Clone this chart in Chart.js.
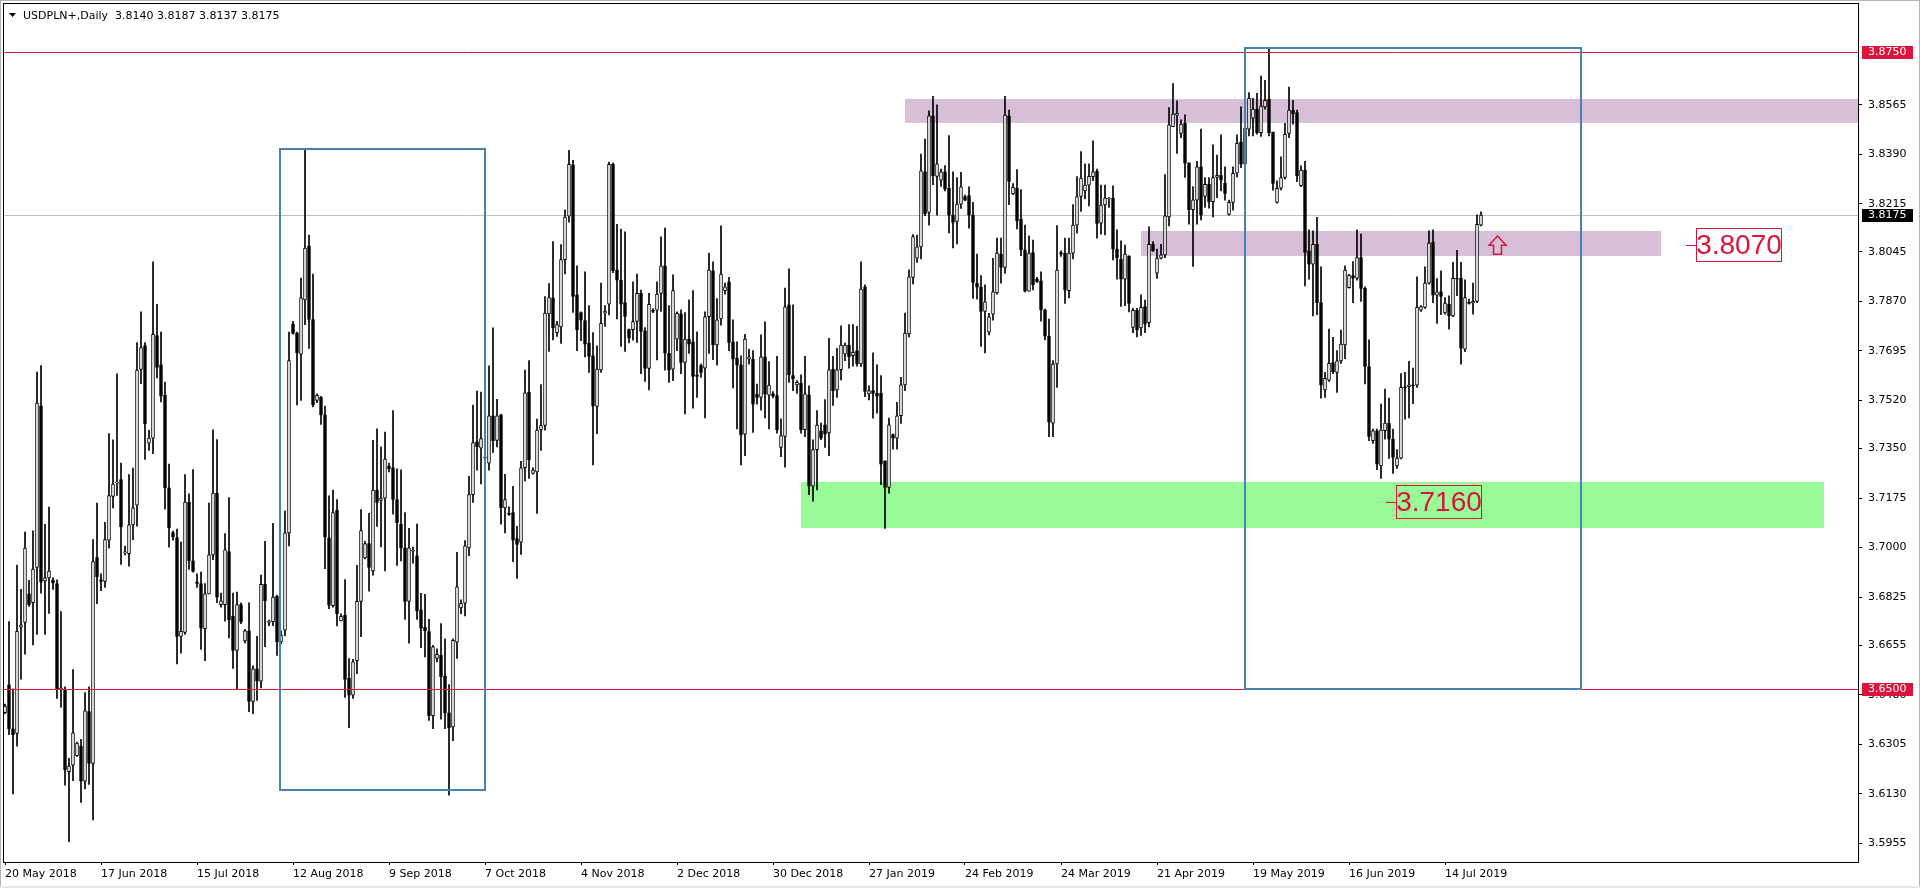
<!DOCTYPE html>
<html>
<head>
<meta charset="utf-8">
<script src="https://cdn.jsdelivr.net/npm/chart.js@4/dist/chart.umd.min.js"></script>
<style>
  html, body { margin: 0; padding: 0; background: #fff; }
  canvas { display: block; }
</style>
</head>
<body>
<canvas id="chart" width="1920" height="888"></canvas>
<script>
// USDPLN+ daily candles, one per trading day (6 per week)
const opens = [
  3.6416,3.6515,3.6359,3.6343,3.6719,3.6735,3.6836,3.6805,3.6930,3.7501,
  3.6882,3.6893,3.6884,3.6873,3.6497,3.6497,3.6208,3.6231,3.6264,3.6298,
  3.6174,3.6420,3.6237,3.6965,3.6886,3.6880,3.7026,3.7181,3.7228,3.7240,
  3.6981,3.6978,3.7080,3.7150,3.7630,3.7714,3.7369,3.7387,3.7749,3.7646,
  3.7539,3.7211,3.7053,3.7035,3.6686,3.6700,3.7161,3.6953,3.6878,3.6873,
  3.6713,3.6836,3.6974,3.7193,3.6798,3.6798,3.6986,3.6758,3.6636,3.6798,
  3.6670,3.6706,3.6456,3.6571,3.6528,3.6870,3.6735,3.6738,3.6828,3.6667,
  3.6708,3.7052,3.7791,3.7757,3.7684,3.7875,3.8067,3.7806,3.7520,3.7532,
  3.7469,3.7034,3.6795,3.7132,3.6741,3.6761,3.6539,3.6478,3.6600,3.6810,
  3.6963,3.7014,3.6917,3.7203,3.7167,3.7175,3.7287,3.7282,3.7170,3.7083,
  3.6999,3.6810,3.6987,3.6971,3.6780,3.6718,3.6703,3.6406,3.6608,3.6619,
  3.6547,3.6416,3.6366,3.6666,3.6787,3.6803,3.6999,3.7187,3.7374,3.7351,
  3.7316,3.7298,3.7466,3.7379,3.7469,3.7140,3.7121,3.7124,3.7032,3.7019,
  3.7282,3.7550,3.7262,3.7267,3.7417,3.7432,3.7826,3.7883,3.7760,3.7780,
  3.8018,3.8171,3.8353,3.7893,3.7831,3.7802,3.7723,3.7678,3.7499,3.7628,
  3.7829,3.7860,3.8355,3.7981,3.7945,3.7866,3.7772,3.7770,3.7799,3.7899,
  3.7766,3.7633,3.7839,3.7839,3.7898,3.7996,3.7687,3.7631,3.7737,3.7826,
  3.7654,3.7737,3.7727,3.7611,3.7643,3.7634,3.7816,3.7978,3.7716,3.7808,
  3.7908,3.7939,3.7727,3.7670,3.7646,3.7401,3.7666,3.7666,3.7542,3.7531,
  3.7674,3.7539,3.7543,3.7537,3.7354,3.7393,3.7858,3.7608,3.7575,3.7581,
  3.7417,3.7540,3.7217,3.7346,3.7413,3.7434,3.7405,3.7631,3.7557,3.7629,
  3.7684,3.7716,3.7678,3.7696,3.7649,3.7922,3.7543,3.7555,3.7546,3.7546,
  3.7307,3.7213,3.7399,3.7387,3.7466,3.7575,3.7755,3.7955,3.8023,3.8063,
  3.8328,3.8185,3.8526,3.8312,3.8299,3.8328,3.8271,3.8175,3.8153,3.8214,
  3.8241,3.8244,3.8175,3.7934,3.7920,3.7835,3.7761,3.7825,3.7900,3.8037,
  3.7990,3.8526,3.8250,3.8271,3.8161,3.8052,3.7906,3.8043,3.7949,3.7943,
  3.7840,3.7747,3.7440,3.7649,3.8043,3.8041,3.7908,3.8041,3.8140,3.8241,
  3.8261,3.8281,3.8311,3.8330,3.8147,3.8211,3.8232,3.8235,3.8055,3.8020,
  3.7949,3.8031,3.7778,3.7839,3.7776,3.7852,3.7795,3.8072,3.7970,3.8023,
  3.8034,3.8169,3.8488,3.8528,3.8464,3.8500,3.8359,3.8194,3.8228,3.8346,
  3.8241,3.8284,3.8223,3.8308,3.8316,3.8288,3.8178,3.8220,3.8323,3.8434,
  3.8355,3.8479,3.8518,3.8550,3.8467,3.8558,3.8585,3.8469,3.8220,3.8270,
  3.8308,3.8464,3.8546,3.8538,3.8279,3.8334,3.8049,3.8002,3.8072,3.7866,
  3.7557,3.7592,3.7654,3.7619,3.7660,3.7716,3.7919,3.7961,3.7952,3.8025,
  3.7916,3.7640,3.7378,3.7413,3.7289,3.7413,3.7440,3.7383,3.7289,3.7316,
  3.7568,3.7569,3.7574,3.7574,3.7839,3.7849,3.7935,3.8081,3.7892,3.7904,
  3.7829,3.7860,3.7819,3.7952,3.7952,3.7701,3.7866,3.7864,3.7870,3.8140
];
const highs = [
  3.6447,3.6738,3.6501,3.6938,3.6852,3.7055,3.6884,3.7059,3.7620,3.7643,
  3.7082,3.7143,3.6893,3.6886,3.6774,3.6508,3.6255,3.6569,3.6312,3.6322,
  3.6487,3.6508,3.7028,3.7157,3.6907,3.7089,3.7403,3.7381,3.7614,3.7299,
  3.7005,3.7258,3.7281,3.7725,3.7833,3.7725,3.7414,3.8010,3.7860,3.7762,
  3.7585,3.7295,3.7058,3.7065,3.7019,3.7258,3.7190,3.7276,3.6907,3.6913,
  3.6873,3.7157,3.7416,3.7382,3.6839,3.7049,3.7177,3.6839,3.6843,3.6805,
  3.6711,3.6805,3.6582,3.6686,3.6903,3.7022,3.6744,3.7086,3.6832,3.6706,
  3.7129,3.7762,3.7800,3.7762,3.7953,3.8408,3.8105,3.7967,3.7543,3.7535,
  3.7500,3.7183,3.7203,3.7170,3.6766,3.6887,3.6608,3.6605,3.6937,3.7134,
  3.7022,3.7121,3.7379,3.7420,3.7356,3.7408,3.7298,3.7484,3.7278,3.7275,
  3.7124,3.7068,3.7002,3.7083,3.6838,3.6835,3.6746,3.6654,3.6642,3.6731,
  3.6677,3.6516,3.6677,3.6983,3.6815,3.7025,3.7252,3.7504,3.7553,3.7550,
  3.7330,3.7642,3.7777,3.7524,3.7471,3.7259,3.7144,3.7216,3.7075,3.7305,
  3.7627,3.7661,3.7282,3.7454,3.7576,3.7887,3.7933,3.8082,3.7800,3.8071,
  3.8194,3.8404,3.8369,3.7996,3.7833,3.7975,3.7855,3.7760,3.7713,3.7935,
  3.7855,3.8363,3.8359,3.8143,3.8126,3.8116,3.7772,3.7939,3.7967,3.7910,
  3.7778,3.7899,3.7845,3.7939,3.8098,3.8129,3.7855,3.7964,3.7833,3.7840,
  3.7831,3.7876,3.7908,3.7763,3.7649,3.7833,3.8041,3.8010,3.7880,3.8137,
  3.7935,3.7955,3.7805,3.7727,3.7678,3.7754,3.7702,3.7696,3.7578,3.7752,
  3.7798,3.7657,3.7551,3.7676,3.7455,3.7917,3.7985,3.7858,3.7590,3.7611,
  3.7676,3.7572,3.7381,3.7484,3.7440,3.7523,3.7740,3.7676,3.7704,3.7784,
  3.7723,3.7788,3.7788,3.7782,3.8010,3.7929,3.7572,3.7688,3.7646,3.7608,
  3.7307,3.7458,3.7402,3.7513,3.7602,3.7829,3.7982,3.8106,3.8105,3.8391,
  3.8444,3.8544,3.8595,3.8565,3.8338,3.8350,3.8456,3.8328,3.8308,3.8326,
  3.8246,3.8275,3.8220,3.8037,3.7961,3.7929,3.7828,3.8022,3.8094,3.8094,
  3.8595,3.8546,3.8287,3.8336,3.8265,3.8140,3.8102,3.8087,3.7955,3.7975,
  3.7843,3.7808,3.7661,3.8138,3.8049,3.8094,3.8094,3.8212,3.8311,3.8400,
  3.8356,3.8356,3.8438,3.8338,3.8281,3.8281,3.8237,3.8279,3.8123,3.8084,
  3.8069,3.8031,3.7846,3.7846,3.7893,3.7875,3.8134,3.8082,3.8055,3.8072,
  3.8318,3.8555,3.8640,3.8579,3.8512,3.8530,3.8361,3.8276,3.8365,3.8479,
  3.8308,3.8308,3.8424,3.8387,3.8459,3.8346,3.8228,3.8346,3.8459,3.8558,
  3.8520,3.8608,3.8588,3.8606,3.8667,3.8652,3.8764,3.8469,3.8296,3.8381,
  3.8500,3.8628,3.8581,3.8546,3.8349,3.8365,3.8123,3.8120,3.8167,3.7992,
  3.7619,3.7772,3.7743,3.7696,3.7769,3.7996,3.7966,3.8011,3.8123,3.8108,
  3.7922,3.7734,3.7419,3.7419,3.7507,3.7560,3.7528,3.7419,3.7346,3.7615,
  3.7619,3.7658,3.7634,3.7957,3.7855,3.7992,3.8120,3.8123,3.7951,3.7978,
  3.7884,3.7890,3.8008,3.8051,3.8008,3.7946,3.7878,3.7935,3.8176,3.8187
];
const lows = [
  3.6413,3.6339,3.6129,3.6298,3.6535,3.6623,3.6792,3.6656,3.6693,3.6839,
  3.6693,3.6767,3.6852,3.6467,3.6436,3.6160,3.5960,3.6176,3.6262,3.6099,
  3.6147,3.6163,3.6037,3.6802,3.6848,3.6859,3.6998,3.7140,3.7184,3.6940,
  3.6974,3.6934,3.7028,3.7076,3.7579,3.7312,3.7343,3.7332,3.7600,3.7515,
  3.7136,3.7001,3.7026,3.6589,3.6627,3.6693,3.6923,3.6913,3.6859,3.6640,
  3.6600,3.6836,3.6957,3.6805,3.6789,3.6740,3.6681,3.6573,3.6501,3.6731,
  3.6663,3.6420,3.6413,3.6460,3.6504,3.6650,3.6724,3.6724,3.6619,3.6660,
  3.6688,3.7006,3.7754,3.7504,3.7520,3.7788,3.7704,3.7497,3.7512,3.7435,
  3.6925,3.6784,3.6789,3.6723,3.6741,3.6470,3.6363,3.6467,3.6554,3.6685,
  3.6960,3.6846,3.6902,3.7075,3.7002,3.6917,3.7267,3.7118,3.6937,3.6953,
  3.6746,3.6662,3.6945,3.6746,3.6646,3.6613,3.6389,3.6360,3.6596,3.6393,
  3.6360,3.6125,3.6317,3.6608,3.6766,3.6758,3.6971,3.7160,3.7274,3.7225,
  3.7300,3.7274,3.7336,3.7356,3.7083,3.7052,3.7114,3.6950,3.6891,3.6976,
  3.7236,3.7244,3.7259,3.7121,3.7343,3.7415,3.7693,3.7734,3.7746,3.7722,
  3.7967,3.8150,3.7831,3.7696,3.7731,3.7674,3.7619,3.7292,3.7403,3.7619,
  3.7782,3.7822,3.7972,3.7808,3.7711,3.7693,3.7723,3.7733,3.7725,3.7615,
  3.7587,3.7557,3.7830,3.7663,3.7835,3.7627,3.7584,3.7590,3.7696,3.7615,
  3.7472,3.7686,3.7493,3.7531,3.7601,3.7458,3.7686,3.7664,3.7645,3.7786,
  3.7896,3.7696,3.7564,3.7419,3.7292,3.7325,3.7648,3.7407,3.7507,3.7486,
  3.7458,3.7419,3.7529,3.7404,3.7321,3.7284,3.7584,3.7555,3.7545,3.7404,
  3.7392,3.7187,3.7164,3.7204,3.7381,3.7354,3.7325,3.7502,3.7531,3.7593,
  3.7661,3.7634,3.7641,3.7641,3.7640,3.7533,3.7522,3.7457,3.7475,3.7222,
  3.7068,3.7192,3.7348,3.7348,3.7439,3.7555,3.7745,3.7932,3.8008,3.8020,
  3.8173,3.8140,3.8283,3.8175,3.8277,3.8261,3.8112,3.8059,3.8073,3.8199,
  3.8226,3.8129,3.7881,3.7878,3.7711,3.7688,3.7752,3.7804,3.7896,3.7935,
  3.7969,3.8212,3.8247,3.8126,3.8032,3.7904,3.7906,3.7911,3.7937,3.7800,
  3.7734,3.7392,3.7392,3.7566,3.8029,3.7863,3.7882,3.8020,3.8111,3.8188,
  3.8232,3.8208,3.8297,3.8094,3.8108,3.8105,3.8202,3.8017,3.7949,3.7852,
  3.7855,3.7833,3.7760,3.7745,3.7750,3.7760,3.7780,3.8047,3.7951,3.8020,
  3.8025,3.8137,3.8488,3.8393,3.8449,3.8308,3.8143,3.7994,3.8143,3.8158,
  3.8202,3.8200,3.8169,3.8237,3.8261,3.8228,3.8175,3.8193,3.8310,3.8343,
  3.8340,3.8455,3.8455,3.8461,3.8453,3.8550,3.8455,3.8263,3.8217,3.8264,
  3.8302,3.8449,3.8497,3.8293,3.8276,3.7925,3.7949,3.7819,3.7823,3.7528,
  3.7531,3.7587,3.7615,3.7548,3.7651,3.7668,3.7917,3.7866,3.7945,3.7870,
  3.7578,3.7378,3.7368,3.7275,3.7244,3.7383,3.7315,3.7262,3.7280,3.7313,
  3.7454,3.7458,3.7509,3.7566,3.7835,3.7845,3.7931,3.7866,3.7792,3.7823,
  3.7825,3.7772,3.7816,3.7890,3.7648,3.7692,3.7860,3.7825,3.7866,3.8137
];
const closes = [
  3.6440,3.6359,3.6339,3.6704,3.6727,3.6998,3.6798,3.6924,3.7511,3.6878,
  3.6893,3.6917,3.6875,3.6501,3.6504,3.6214,3.6228,3.6345,3.6309,3.6174,
  3.6423,3.6237,3.6950,3.6897,3.6880,3.7028,3.7184,3.7224,3.7230,3.7073,
  3.6981,3.7080,3.7140,3.7627,3.7707,3.7438,3.7387,3.7754,3.7637,3.7535,
  3.7211,3.7069,3.7038,3.6686,3.6704,3.7161,3.6954,3.6916,3.6873,3.6715,
  3.6836,3.6974,3.7193,3.6825,3.6812,3.6992,3.6744,3.6636,3.6798,3.6738,
  3.6706,3.6456,3.6571,3.6528,3.6870,3.6812,3.6740,3.6825,3.6667,3.6690,
  3.7052,3.7661,3.7757,3.7688,3.7883,3.8059,3.7806,3.7504,3.7538,3.7469,
  3.7037,3.6796,3.7124,3.6766,3.6757,3.6534,3.6478,3.6596,3.6810,3.7060,
  3.7014,3.6930,3.7203,3.7160,3.7175,3.7313,3.7278,3.7170,3.7088,3.6999,
  3.6810,3.6999,3.6987,3.6777,3.6715,3.6705,3.6406,3.6649,3.6623,3.6544,
  3.6416,3.6363,3.6672,3.6861,3.6803,3.7006,3.7187,3.7371,3.7356,3.7385,
  3.7316,3.7466,3.7377,3.7466,3.7140,3.7170,3.7117,3.7026,3.7011,3.7282,
  3.7547,3.7310,3.7274,3.7415,3.7431,3.7829,3.7884,3.7776,3.7788,3.8018,
  3.8168,3.8355,3.7888,3.7769,3.7804,3.7719,3.7676,3.7501,3.7631,3.7793,
  3.7836,3.8355,3.7978,3.7945,3.7860,3.7817,3.7740,3.7799,3.7899,3.7764,
  3.7633,3.7860,3.7835,3.7896,3.7996,3.7687,3.7627,3.7908,3.7828,3.7654,
  3.7737,3.7719,3.7605,3.7605,3.7619,3.7816,3.7981,3.7716,3.7805,3.7967,
  3.7922,3.7725,3.7666,3.7645,3.7398,3.7737,3.7674,3.7507,3.7531,3.7674,
  3.7542,3.7574,3.7535,3.7417,3.7396,3.7851,3.7610,3.7596,3.7584,3.7417,
  3.7543,3.7217,3.7346,3.7433,3.7387,3.7401,3.7628,3.7555,3.7628,3.7716,
  3.7716,3.7675,3.7690,3.7649,3.7914,3.7552,3.7555,3.7545,3.7535,3.7295,
  3.7213,3.7434,3.7387,3.7466,3.7575,3.7758,3.7957,3.8099,3.8063,3.8332,
  3.8179,3.8526,3.8314,3.8356,3.8328,3.8267,3.8175,3.8149,3.8214,3.8275,
  3.8228,3.8175,3.7937,3.7920,3.7835,3.7869,3.7816,3.7904,3.8041,3.7990,
  3.8529,3.8294,3.8273,3.8155,3.8052,3.7906,3.8041,3.7929,3.7940,3.7840,
  3.7747,3.7443,3.7649,3.7981,3.8037,3.7910,3.8041,3.8140,3.8241,3.8306,
  3.8281,3.8312,3.8328,3.8146,3.8211,3.8235,3.8235,3.8055,3.8023,3.7949,
  3.8037,3.7863,3.7839,3.7770,3.7849,3.7790,3.8072,3.8049,3.8023,3.8035,
  3.8173,3.8494,3.8532,3.8535,3.8497,3.8359,3.8194,3.8229,3.8346,3.8175,
  3.8284,3.8223,3.8308,3.8316,3.8299,3.8252,3.8220,3.8323,3.8429,3.8355,
  3.8482,3.8588,3.8550,3.8467,3.8561,3.8581,3.8467,3.8287,3.8270,3.8308,
  3.8461,3.8546,3.8534,3.8314,3.8334,3.8043,3.8002,3.8072,3.7866,3.7574,
  3.7598,3.7651,3.7621,3.7660,3.7719,3.7981,3.7963,3.7952,3.8025,3.7916,
  3.7640,3.7393,3.7413,3.7295,3.7415,3.7440,3.7383,3.7319,3.7316,3.7566,
  3.7564,3.7575,3.7572,3.7849,3.7852,3.7935,3.8076,3.7892,3.7904,3.7888,
  3.7864,3.7819,3.7952,3.7949,3.7705,3.7884,3.7863,3.7870,3.8143,3.8175
];

// axis labels: dates every 4 weeks (24 bars), MT4 price grid values
const dateLabels = ['20 May 2018','17 Jun 2018','15 Jul 2018','12 Aug 2018','9 Sep 2018','7 Oct 2018',
  '4 Nov 2018','2 Dec 2018','30 Dec 2018','27 Jan 2019','24 Feb 2019','24 Mar 2019',
  '21 Apr 2019','19 May 2019','16 Jun 2019','14 Jul 2019'];
const dateTicks = [0,24,48,72,96,120,144,168,192,216,240,264,288,312,336,360];
const priceTicks = [3.8565,3.8390,3.8215,3.8045,3.7870,3.7695,3.7520,3.7350,
  3.7175,3.7000,3.6825,3.6655,3.6480,3.6305,3.6130,3.5955];

// drawn objects (bar index / price)
const levels = [3.8750, 3.6500];
const zones = [
  { from: 225, to: 463.25, top: 3.8587, bottom: 3.8502, color: '#D8BFD8' },
  { from: 284, to: 414, top: 3.8120, bottom: 3.8031, color: '#D8BFD8' },
  { from: 199, to: 454.75, top: 3.7233, bottom: 3.7068, color: '#98FB98' }
];
const boxes = [
  { from: 68.75, to: 120, top: 3.8409, bottom: 3.6144 },
  { from: 310, to: 394, top: 3.8767, bottom: 3.6500 }
];
const priceNotes = [
  { text: '3.8070', at: 420.25, price: 3.8070 },
  { text: '3.7160', at: 345.25, price: 3.7160 }
];
const upArrow = { at: 373, tip: 3.8101, base: 3.8037 };

const last = opens.length - 1;
const bid = closes[last];

const wicks = opens.map((o, i) => ({ x: i, y: [Math.min(lows[i], o, closes[i]), Math.max(highs[i], o, closes[i])] }));
const bodies = opens.map((o, i) => ({ x: i, y: [Math.min(o, closes[i]), Math.max(o, closes[i])] }));
const bodyFill = opens.map((o, i) => closes[i] >= o ? '#ffffff' : '#000000');

const RED = '#DC143C';
const AXIS_FONT = '11px "DejaVu Sans"';

const overlay = {
  id: 'overlay',
  beforeDatasetsDraw(chart) {
    const { ctx, chartArea: a, scales: { x, y } } = chart;
    ctx.save();
    ctx.beginPath();
    ctx.rect(a.left, a.top, a.right - a.left, a.bottom - a.top);
    ctx.clip();
    zones.forEach(z => {
      const x1 = Math.round(x.getPixelForValue(z.from)), x2 = Math.round(x.getPixelForValue(z.to));
      const y1 = Math.round(y.getPixelForValue(z.top)), y2 = Math.round(y.getPixelForValue(z.bottom));
      ctx.fillStyle = z.color;
      ctx.fillRect(x1, y1, x2 - x1, y2 - y1);
    });
    // bid line
    const by = Math.round(y.getPixelForValue(bid)) + 0.5;
    ctx.strokeStyle = '#C0C0C0';
    ctx.lineWidth = 1;
    ctx.beginPath(); ctx.moveTo(a.left, by); ctx.lineTo(a.right, by); ctx.stroke();
    ctx.restore();
  },
  afterDatasetsDraw(chart) {
    const { ctx, chartArea: a, scales: { x, y } } = chart;
    ctx.save();
    ctx.beginPath();
    ctx.rect(a.left, a.top, a.right - a.left, a.bottom - a.top);
    ctx.clip();
    // horizontal levels
    ctx.strokeStyle = RED;
    ctx.lineWidth = 1;
    levels.forEach(v => {
      const ly = Math.round(y.getPixelForValue(v)) + 0.5;
      ctx.beginPath(); ctx.moveTo(a.left, ly); ctx.lineTo(a.right, ly); ctx.stroke();
    });
    // rectangles
    ctx.strokeStyle = '#4682B4';
    ctx.lineWidth = 2;
    boxes.forEach(b => {
      const x1 = Math.round(x.getPixelForValue(b.from)), x2 = Math.round(x.getPixelForValue(b.to));
      const y1 = Math.round(y.getPixelForValue(b.top)), y2 = Math.round(y.getPixelForValue(b.bottom));
      ctx.strokeRect(x1, y1, x2 - x1, y2 - y1);
    });
    // price notes
    ctx.lineWidth = 1;
    ctx.strokeStyle = RED;
    ctx.fillStyle = RED;
    ctx.font = '28px "Liberation Sans"';
    ctx.textAlign = 'center';
    ctx.textBaseline = 'middle';
    priceNotes.forEach(n => {
      const px = Math.round(x.getPixelForValue(n.at));
      const py = Math.round(y.getPixelForValue(n.price));
      ctx.beginPath(); ctx.moveTo(px, py + 0.5); ctx.lineTo(px + 10, py + 0.5); ctx.stroke();
      ctx.strokeRect(px + 10.5, py - 16.5, 85, 33);
      ctx.fillText(n.text, px + 53, py + 1);
    });
    // up arrow
    const ax = Math.round(x.getPixelForValue(upArrow.at)) + 0.5;
    const ty = y.getPixelForValue(upArrow.tip), ry = y.getPixelForValue(upArrow.base);
    const mid = ty + (ry - ty) * 0.5;
    ctx.lineWidth = 1.5;
    ctx.beginPath();
    ctx.moveTo(ax, ty);
    ctx.lineTo(ax + 8.5, mid);
    ctx.lineTo(ax + 4, mid);
    ctx.lineTo(ax + 4, ry);
    ctx.lineTo(ax - 4, ry);
    ctx.lineTo(ax - 4, mid);
    ctx.lineTo(ax - 8.5, mid);
    ctx.closePath();
    ctx.stroke();
    ctx.restore();
  },
  afterDraw(chart) {
    const { ctx, chartArea: a, scales: { y } } = chart;
    ctx.save();
    // window edge and plot frame
    ctx.strokeStyle = '#B4B4B4';
    ctx.lineWidth = 1;
    ctx.strokeRect(0.5, 0.5, 1919, 887);
    ctx.fillStyle = '#E6E6E6';
    ctx.fillRect(0, 886, 1920, 2);
    ctx.strokeStyle = '#000';
    ctx.strokeRect(a.left - 0.5, a.top - 0.5, a.right - a.left + 1, a.bottom - a.top + 1);
    // price tags on the axis
    ctx.font = AXIS_FONT;
    ctx.textAlign = 'left';
    ctx.textBaseline = 'middle';
    const tag = (v, bg) => {
      const ty = Math.round(y.getPixelForValue(v));
      ctx.fillStyle = bg;
      ctx.fillRect(a.right + 4, ty - 6, 51, 13);
      ctx.fillStyle = '#fff';
      ctx.fillText(v.toFixed(4), a.right + 10, ty + 0.5);
    };
    levels.forEach(v => tag(v, RED));
    tag(bid, '#000');
    // header
    ctx.fillStyle = '#000';
    ctx.beginPath();
    ctx.moveTo(9, 13); ctx.lineTo(16, 13); ctx.lineTo(12.5, 17);
    ctx.closePath(); ctx.fill();
    ctx.textBaseline = 'alphabetic';
    const ohlc = [opens[last], highs[last], lows[last], closes[last]].map(v => v.toFixed(4)).join(' ');
    ctx.fillText('USDPLN+,Daily  ' + ohlc, 23, 19);
    ctx.restore();
  }
};

new Chart(document.getElementById('chart'), {
  type: 'bar',
  data: {
    datasets: [
      { data: wicks, backgroundColor: '#000', borderWidth: 0, barThickness: 1, grouped: false, order: 2 },
      { data: bodies, backgroundColor: bodyFill, borderColor: '#000', borderWidth: 1, borderSkipped: false,
        barThickness: 3, minBarLength: 1, grouped: false, order: 1 }
    ]
  },
  options: {
    responsive: false,
    animation: false,
    layout: { padding: { left: 4, top: 4, right: 0, bottom: 0 } },
    plugins: { legend: { display: false }, tooltip: { enabled: false } },
    scales: {
      x: {
        type: 'linear', min: -0.25, max: 463.25, offset: false,
        grid: { offset: false, drawOnChartArea: false, tickLength: 3, color: '#000' },
        border: { display: false },
        afterBuildTicks: s => { s.ticks = dateTicks.map(v => ({ value: v })); },
        afterFit: s => { s.height = 26; s.paddingLeft = 0; s.paddingRight = 0; },
        ticks: {
          autoSkip: false, maxRotation: 0, align: 'start', padding: 3, color: '#000',
          font: { family: 'DejaVu Sans', size: 11 },
          callback: (v, i) => dateLabels[i]
        }
      },
      y: {
        position: 'right', min: 3.58885, max: 3.89214,
        grid: { drawOnChartArea: false, tickLength: 4, color: '#000' },
        border: { display: false },
        afterBuildTicks: s => { s.ticks = priceTicks.map(v => ({ value: v })); },
        afterFit: s => { s.width = 62; s.paddingTop = 0; s.paddingBottom = 0; },
        ticks: {
          padding: 6, color: '#000',
          font: { family: 'DejaVu Sans', size: 11 },
          callback: v => v.toFixed(4)
        }
      }
    }
  },
  plugins: [overlay]
});
</script>
</body>
</html>
